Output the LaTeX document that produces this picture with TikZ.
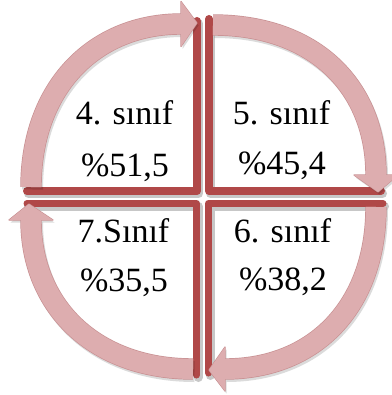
\documentclass[tikz,border=0pt]{standalone}
\usepackage{fontspec}
\setmainfont{Liberation Serif}
\definecolor{barred}{RGB}{176,72,72}
\definecolor{arrpink}{RGB}{221,173,175}
\definecolor{arredge}{RGB}{200,145,147}
\begin{document}
\begin{tikzpicture}[x=1pt,y=-1pt,
  bar/.style={draw=barred, line width=8pt, line join=round, line cap=round},
  barshadow/.style={draw=black, opacity=.22, line width=9pt, line join=round, line cap=round},
  arrshadow/.style={draw=black, opacity=.14, line width=21pt},
  arredgebody/.style={draw=arredge, line width=21.4pt},
  arrbody/.style={draw=arrpink, line width=20pt},
  headedge/.style={fill=arrpink, draw=arredge, line width=1.2pt, line join=round},
  headfill/.style={fill=arrpink},
  headshadow/.style={fill=black, opacity=.14},
  lbl/.style={anchor=base, inner sep=0pt, font=\fontsize{34}{40}\selectfont}]

\useasboundingbox (0,0) rectangle (391,395);

% ---- shadows of the bars
\begin{scope}[shift={(1.5,2.5)}]
  \draw[barshadow] (197,21) -- (197,191) -- (27,191);
  \draw[barshadow] (209,19) -- (209,191) -- (381,191);
  \draw[barshadow] (27,203.5) -- (196.5,203.5) -- (196.5,375);
  \draw[barshadow] (383,203.5) -- (208.5,203.5) -- (208.5,373);
\end{scope}

% ---- quadrant borders (cross)
\draw[bar] (197,21) -- (197,191) -- (27,191);
\draw[bar] (209,19) -- (209,191) -- (381,191);
\draw[bar, line width=7pt] (27,203.5) -- (196.5,203.5) -- (196.5,375);
\draw[bar, line width=7pt] (383,203.5) -- (208.5,203.5) -- (208.5,373);

% ---- arrow shadows
\begin{scope}[shift={(1.5,2.5)}]
  \draw[arrshadow] (31,187) .. controls (31,88) and (94,24) .. (181,24);
  \fill[headshadow] (181,1.5) -- (197,23) -- (181,46.5) -- cycle;
  \draw[arrshadow] (213,25) .. controls (316,25) and (376,88) .. (376,175);
  \fill[headshadow] (354,175) -- (378,192) -- (398,175) -- cycle;
  \draw[arrshadow] (376,207) .. controls (376,306) and (315,369) .. (225,369);
  \fill[headshadow] (225,347) -- (209,370) -- (225,391) -- cycle;
  \draw[arrshadow] (193,369) .. controls (94,369) and (31,306) .. (31,220);
  \fill[headshadow] (9,220) -- (29,204) -- (53,220) -- cycle;
\end{scope}

% ---- arrow 1: top-left (4 -> 5)
\draw[arredgebody] (31,187) .. controls (31,88) and (94,24) .. (181,24);
\filldraw[headedge] (181,1.5) -- (197,23) -- (181,46.5) -- cycle;
\draw[arrbody] (31,187) .. controls (31,88) and (94,24) .. (181,24);
\fill[headfill] (181,1.5) -- (197,23) -- (181,46.5) -- cycle;

% ---- arrow 2: top-right (5 -> 6)
\draw[arredgebody] (213,25) .. controls (316,25) and (376,88) .. (376,175);
\filldraw[headedge] (354,175) -- (378,192) -- (398,175) -- cycle;
\draw[arrbody] (213,25) .. controls (316,25) and (376,88) .. (376,175);
\fill[headfill] (354,175) -- (378,192) -- (398,175) -- cycle;

% ---- arrow 3: bottom-right (6 -> 7)
\draw[arredgebody] (376,207) .. controls (376,306) and (315,369) .. (225,369);
\filldraw[headedge] (225,347) -- (209,370) -- (225,391) -- cycle;
\draw[arrbody] (376,207) .. controls (376,306) and (315,369) .. (225,369);
\fill[headfill] (225,347) -- (209,370) -- (225,391) -- cycle;

% ---- arrow 4: bottom-left (7 -> 4)
\draw[arredgebody] (193,369) .. controls (94,369) and (31,306) .. (31,220);
\filldraw[headedge] (9,220) -- (29,204) -- (53,220) -- cycle;
\draw[arrbody] (193,369) .. controls (94,369) and (31,306) .. (31,220);
\fill[headfill] (9,220) -- (29,204) -- (53,220) -- cycle;

% ---- labels
\node[lbl] (t4a) at (124.5,125) {4. sınıf};
\node[lbl] (t4b) at (125,176) {\%51,5};
\node[lbl] (t5a) at (281.5,125) {5. sınıf};
\node[lbl] (t5b) at (282,175) {\%45,4};
\node[lbl] (t7a) at (123.5,242) {7.Sınıf};
\node[lbl] (t7b) at (124,291) {\%35,5};
\node[lbl] (t6a) at (282.5,242) {6. sınıf};
\node[lbl] (t6b) at (283,290) {\%38,2};
\end{tikzpicture}
\end{document}
